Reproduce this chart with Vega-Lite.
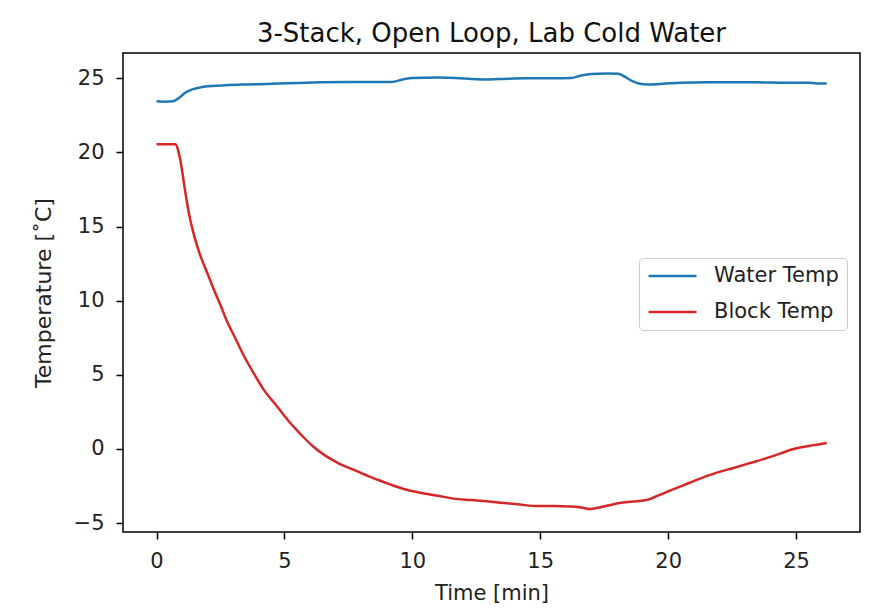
{
  "$schema": "https://vega.github.io/schema/vega-lite/v6.json",
  "width": 737,
  "height": 479,
  "autosize": {"type": "none"},
  "padding": {"left": 123, "top": 53, "right": 17, "bottom": 79},
  "background": "white",
  "title": {"text": "3-Stack, Open Loop, Lab Cold Water", "fontSize": 26, "font": "DejaVu Sans", "fontWeight": "normal", "color": "#111111", "anchor": "middle", "offset": 6},
  "data": {"values": [
    {"series": "Water Temp", "t": 0, "v": 23.45},
    {"series": "Water Temp", "t": 0.3, "v": 23.42},
    {"series": "Water Temp", "t": 0.65, "v": 23.45},
    {"series": "Water Temp", "t": 0.9, "v": 23.7},
    {"series": "Water Temp", "t": 1.15, "v": 24.05},
    {"series": "Water Temp", "t": 1.4, "v": 24.25},
    {"series": "Water Temp", "t": 1.7, "v": 24.38},
    {"series": "Water Temp", "t": 2.0, "v": 24.45},
    {"series": "Water Temp", "t": 2.5, "v": 24.5},
    {"series": "Water Temp", "t": 3.3, "v": 24.57},
    {"series": "Water Temp", "t": 4.5, "v": 24.62},
    {"series": "Water Temp", "t": 5.5, "v": 24.68},
    {"series": "Water Temp", "t": 6.4, "v": 24.73},
    {"series": "Water Temp", "t": 7.5, "v": 24.74},
    {"series": "Water Temp", "t": 8.5, "v": 24.75},
    {"series": "Water Temp", "t": 9.2, "v": 24.75},
    {"series": "Water Temp", "t": 9.6, "v": 24.9},
    {"series": "Water Temp", "t": 10.0, "v": 25.02},
    {"series": "Water Temp", "t": 11.0, "v": 25.04},
    {"series": "Water Temp", "t": 11.7, "v": 25.02},
    {"series": "Water Temp", "t": 12.3, "v": 24.95},
    {"series": "Water Temp", "t": 12.8, "v": 24.92},
    {"series": "Water Temp", "t": 13.4, "v": 24.95},
    {"series": "Water Temp", "t": 14.5, "v": 25.0},
    {"series": "Water Temp", "t": 15.5, "v": 25.0},
    {"series": "Water Temp", "t": 16.2, "v": 25.02},
    {"series": "Water Temp", "t": 16.6, "v": 25.18},
    {"series": "Water Temp", "t": 17.0, "v": 25.28},
    {"series": "Water Temp", "t": 17.6, "v": 25.32},
    {"series": "Water Temp", "t": 18.05, "v": 25.3},
    {"series": "Water Temp", "t": 18.3, "v": 25.1},
    {"series": "Water Temp", "t": 18.6, "v": 24.8},
    {"series": "Water Temp", "t": 18.9, "v": 24.62},
    {"series": "Water Temp", "t": 19.2, "v": 24.58},
    {"series": "Water Temp", "t": 19.8, "v": 24.62},
    {"series": "Water Temp", "t": 20.5, "v": 24.7},
    {"series": "Water Temp", "t": 21.5, "v": 24.72},
    {"series": "Water Temp", "t": 22.5, "v": 24.72},
    {"series": "Water Temp", "t": 23.5, "v": 24.72},
    {"series": "Water Temp", "t": 24.5, "v": 24.7},
    {"series": "Water Temp", "t": 25.5, "v": 24.7},
    {"series": "Water Temp", "t": 25.8, "v": 24.65},
    {"series": "Water Temp", "t": 26.2, "v": 24.65},
    {"series": "Block Temp", "t": 0, "v": 20.55},
    {"series": "Block Temp", "t": 0.4, "v": 20.55},
    {"series": "Block Temp", "t": 0.75, "v": 20.55},
    {"series": "Block Temp", "t": 0.85, "v": 20.1},
    {"series": "Block Temp", "t": 0.95, "v": 19.3},
    {"series": "Block Temp", "t": 1.1, "v": 17.6},
    {"series": "Block Temp", "t": 1.3, "v": 15.6},
    {"series": "Block Temp", "t": 1.5, "v": 14.2},
    {"series": "Block Temp", "t": 1.72, "v": 13.0},
    {"series": "Block Temp", "t": 2.0, "v": 11.8},
    {"series": "Block Temp", "t": 2.24, "v": 10.75},
    {"series": "Block Temp", "t": 2.5, "v": 9.7},
    {"series": "Block Temp", "t": 2.76, "v": 8.6},
    {"series": "Block Temp", "t": 3.1, "v": 7.4},
    {"series": "Block Temp", "t": 3.41, "v": 6.3},
    {"series": "Block Temp", "t": 3.8, "v": 5.1},
    {"series": "Block Temp", "t": 4.19, "v": 4.0},
    {"series": "Block Temp", "t": 4.7, "v": 2.9},
    {"series": "Block Temp", "t": 5.23, "v": 1.75},
    {"series": "Block Temp", "t": 5.63, "v": 1.0},
    {"series": "Block Temp", "t": 6.1, "v": 0.2},
    {"series": "Block Temp", "t": 6.6, "v": -0.45},
    {"series": "Block Temp", "t": 7.1, "v": -0.95},
    {"series": "Block Temp", "t": 7.7, "v": -1.4},
    {"series": "Block Temp", "t": 8.3, "v": -1.85},
    {"series": "Block Temp", "t": 9.0, "v": -2.3},
    {"series": "Block Temp", "t": 9.66, "v": -2.7},
    {"series": "Block Temp", "t": 10.3, "v": -2.95},
    {"series": "Block Temp", "t": 11.0, "v": -3.15},
    {"series": "Block Temp", "t": 11.6, "v": -3.35},
    {"series": "Block Temp", "t": 12.3, "v": -3.45},
    {"series": "Block Temp", "t": 13.0, "v": -3.55},
    {"series": "Block Temp", "t": 13.6, "v": -3.65},
    {"series": "Block Temp", "t": 14.2, "v": -3.75},
    {"series": "Block Temp", "t": 14.9, "v": -3.85},
    {"series": "Block Temp", "t": 15.5, "v": -3.85},
    {"series": "Block Temp", "t": 16.2, "v": -3.88},
    {"series": "Block Temp", "t": 16.6, "v": -3.95},
    {"series": "Block Temp", "t": 16.95, "v": -4.05},
    {"series": "Block Temp", "t": 17.3, "v": -3.95},
    {"series": "Block Temp", "t": 17.7, "v": -3.8},
    {"series": "Block Temp", "t": 18.1, "v": -3.65},
    {"series": "Block Temp", "t": 18.6, "v": -3.55},
    {"series": "Block Temp", "t": 19.2, "v": -3.42},
    {"series": "Block Temp", "t": 19.6, "v": -3.15},
    {"series": "Block Temp", "t": 19.95, "v": -2.9},
    {"series": "Block Temp", "t": 20.6, "v": -2.45},
    {"series": "Block Temp", "t": 21.25, "v": -2.0},
    {"series": "Block Temp", "t": 21.9, "v": -1.6},
    {"series": "Block Temp", "t": 22.55, "v": -1.28},
    {"series": "Block Temp", "t": 23.2, "v": -0.95},
    {"series": "Block Temp", "t": 23.85, "v": -0.62},
    {"series": "Block Temp", "t": 24.4, "v": -0.3},
    {"series": "Block Temp", "t": 24.9, "v": 0.0},
    {"series": "Block Temp", "t": 25.5, "v": 0.2},
    {"series": "Block Temp", "t": 26.2, "v": 0.4}
  ]},
  "mark": {"type": "line", "strokeWidth": 2.5, "interpolate": "monotone"},
  "encoding": {
    "x": {
      "field": "t", "type": "quantitative",
      "scale": {"domain": [-1.31, 27.5], "nice": false, "zero": false},
      "axis": {"values": [0, 5, 10, 15, 20, 25], "title": "Time [min]", "labelPadding": 11, "titleX": 368.5, "titleY": 61, "titleBaseline": "middle", "titleAlign": "center"}
    },
    "y": {
      "field": "v", "type": "quantitative",
      "scale": {"domain": [-5.6, 26.7], "nice": false, "zero": false},
      "axis": {"values": [-5, 0, 5, 10, 15, 20, 25], "title": "Temperature [˚C]", "labelPadding": 12, "titleX": -80, "titleY": 239.5, "titleAngle": -90, "titleBaseline": "middle", "titleAlign": "center", "titleFontSize": 22}
    },
    "color": {
      "field": "series", "type": "nominal",
      "scale": {"domain": ["Water Temp", "Block Temp"], "range": ["#1f77b4", "#d62728"]},
      "legend": {"orient": "none", "legendX": 516, "legendY": 205, "title": null, "symbolType": "stroke", "symbolStrokeWidth": 2.5, "symbolSize": 2304, "clipHeight": 20, "labelFontSize": 21, "labelFont": "DejaVu Sans", "labelColor": "#222222", "labelOffset": 16, "strokeColor": "#cccccc", "fillColor": "white", "cornerRadius": 4, "padding": 8, "rowPadding": 15}
    }
  },
  "config": {
    "view": {"stroke": "#000000", "strokeWidth": 1.5},
    "axis": {"domain": false, "grid": false, "tickColor": "#000000", "tickSize": 7, "tickWidth": 1.5, "labelFont": "DejaVu Sans", "labelFontSize": 21, "labelColor": "#222222", "titleFont": "DejaVu Sans", "titleFontSize": 21, "titleFontWeight": "normal", "titleColor": "#222222"}
  }
}
